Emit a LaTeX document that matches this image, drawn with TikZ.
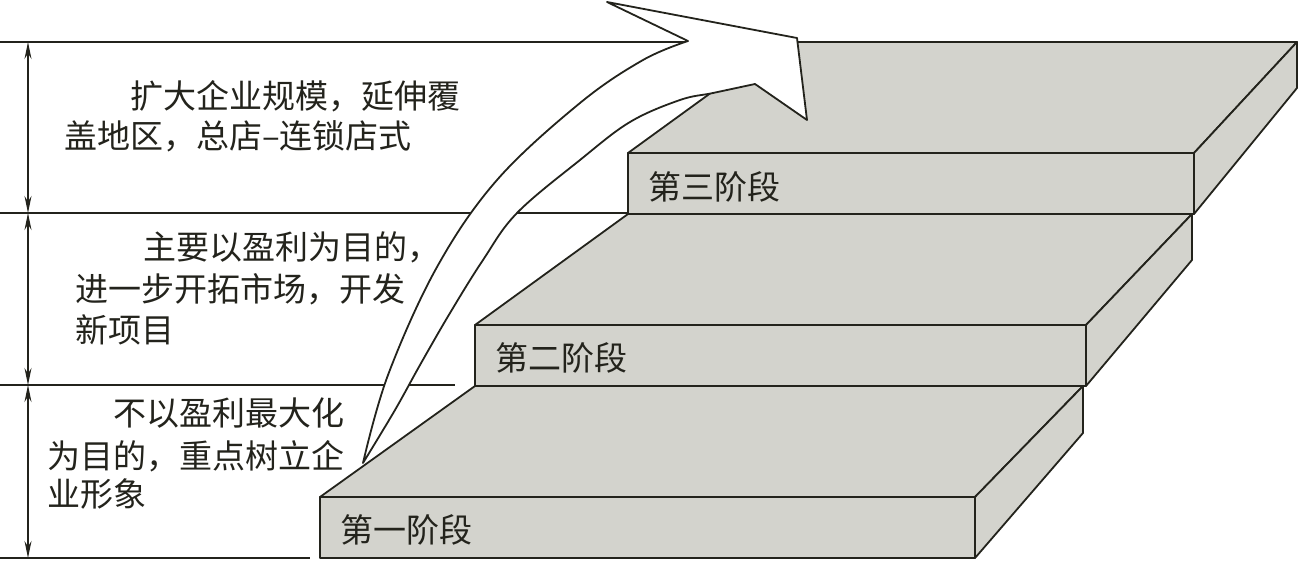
\documentclass[tikz,border=0pt]{standalone}
\usepackage{fontspec}
\setmainfont{Noto Sans CJK SC}
\usetikzlibrary{arrows.meta}
\definecolor{ink}{RGB}{35,35,28}
\definecolor{slabgray}{RGB}{211,211,205}
\begin{document}
\begin{tikzpicture}[x=1pt,y=-1pt,
  edge/.style={draw=ink, line width=1.8pt, line join=round},
  face/.style={edge, fill=slabgray},
  rule/.style={draw=ink, line width=1.6pt},
  dim/.style={draw=ink, line width=1.4pt, {Stealth[length=17pt,width=7pt]}-{Stealth[length=17pt,width=7pt]}},
  lbl/.style={inner sep=0pt, anchor=base west, text=ink, font=\fontsize{33}{40}\selectfont}]
\useasboundingbox (0,0) rectangle (1301,562);

% level lines
\coordinate (h1a) at (0,42);   \coordinate (h1b) at (781,42);
\coordinate (h2a) at (0,213);  \coordinate (h2b) at (628,213);
\coordinate (h3a) at (0,385);  \coordinate (h3b) at (455,385);
\coordinate (h4a) at (0,558);  \coordinate (h4b) at (310,558);
\draw[rule] (h1a) -- (h1b);
\draw[rule] (h2a) -- (h2b);
\draw[rule] (h3a) -- (h3b);
\draw[rule] (h4a) -- (h4b);

% dimension arrows
\coordinate (d1) at (28,42);
\coordinate (d2) at (28,213);
\coordinate (d3) at (28,385);
\coordinate (d4) at (28,558);
\draw[dim] (d1) -- (d2);
\draw[dim] (d2) -- (d3);
\draw[dim] (d3) -- (d4);

% stage 1 slab
\draw[face] (320,497) -- (975,497) -- (1083,386) -- (475,386) -- cycle;
\draw[face] (975,497) -- (1083,386) -- (1083,433) -- (975,558) -- cycle;
\draw[face] (320,497) rectangle (975,558);
% stage 2 slab
\draw[face] (475,325) -- (1086,325) -- (1192,214) -- (628,214) -- cycle;
\draw[face] (1086,325) -- (1192,214) -- (1192,260) -- (1086,386) -- cycle;
\draw[face] (475,325) rectangle (1086,386);
% stage 3 slab
\draw[face] (628,153) -- (1194,153) -- (1297,42) -- (781,42) -- cycle;
\draw[face] (1194,153) -- (1297,42) -- (1297,88) -- (1194,214) -- cycle;
\draw[face] (628,153) rectangle (1194,214);

% stage labels
\node[lbl] (s1) at (340,542) {第一阶段};
\node[lbl] (s2) at (495,370) {第二阶段};
\node[lbl] (s3) at (648,199) {第三阶段};

% descriptions
\node[lbl] (a1) at (130,108) {扩大企业规模，延伸覆};
\node[lbl] (a2) at (64,148) {盖地区，总店–连锁店式};
\node[lbl] (b1) at (143,259) {主要以盈利为目的，};
\node[lbl] (b2) at (75,301) {进一步开拓市场，开发};
\node[lbl] (b3) at (75,342) {新项目};
\node[lbl] (c1) at (113,425) {不以盈利最大化};
\node[lbl] (c2) at (47,468) {为目的，重点树立企};
\node[lbl] (c3) at (47,506) {业形象};

% big curved arrow
\draw[edge, fill=white]
  plot[smooth, tension=0.6] coordinates {(363,463) (388,375) (437,267) (497,180) (580,103) (643,60) (688,41)}
  -- (607,2) -- (797,38) -- (807,120) -- (755,84)
  -- plot[smooth, tension=0.6] coordinates {(755,84) (713,93) (680,100) (630,122) (580,160) (517,213) (483,260) (450,313) (420,365) (395,410) (363,463)}
  -- cycle;
\end{tikzpicture}
\end{document}
